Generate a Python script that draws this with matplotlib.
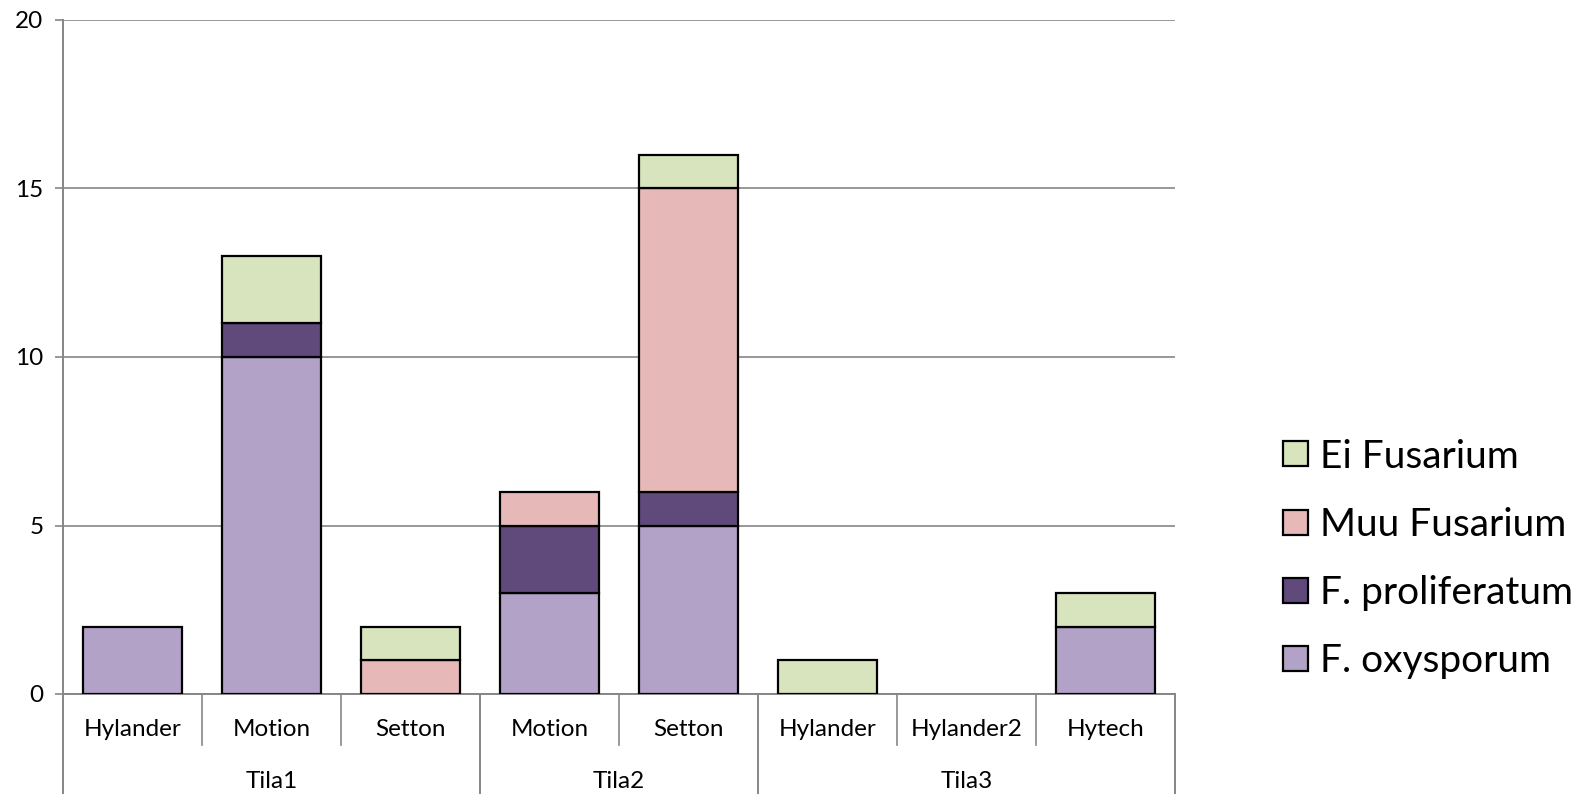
import matplotlib
matplotlib.use("Agg")
import matplotlib.pyplot as plt
import numpy as np

plt.rcParams['font.family'] = ['Lato', 'DejaVu Sans']

categories = ["Hylander", "Motion", "Setton", "Motion", "Setton", "Hylander", "Hylander2", "Hytech"]
groups = ["Tila1", "Tila2", "Tila3"]
group_sizes = [3, 2, 3]

f_oxysporum = [2, 10, 0, 3, 5, 0, 0, 2]
f_proliferatum = [0, 1, 0, 2, 1, 0, 0, 0]
muu_fusarium = [0, 0, 1, 1, 9, 0, 0, 0]
ei_fusarium = [0, 2, 1, 0, 1, 1, 0, 1]

series = [
    ("F. oxysporum", f_oxysporum, "#B3A2C7"),
    ("F. proliferatum", f_proliferatum, "#604A7B"),
    ("Muu Fusarium", muu_fusarium, "#E6B9B8"),
    ("Ei Fusarium", ei_fusarium, "#D7E4BD"),
]

W, H = 1589, 794
fig = plt.figure(figsize=(W / 100, H / 100), dpi=100)
left, right, bottom, top = 63, 1175, 694, 20
ax = fig.add_axes([left / W, (H - bottom) / H, (right - left) / W, (bottom - top) / H])

grid_c = "#868686"
lab_fs = 17.5
x = np.arange(len(categories))
base = np.zeros(len(categories))
handles = []
for name, vals, col in series:
    vals = np.array(vals, dtype=float)
    mask = vals > 0
    b = ax.bar(x[mask], vals[mask], bottom=base[mask], width=0.71, color=col,
               edgecolor="black", linewidth=1.6, zorder=3)
    handles.append((b, name))
    base += vals

ax.set_xlim(-0.5, len(categories) - 0.5)
ax.set_ylim(0, 20)
ax.set_yticks([0, 5, 10, 15, 20])
ax.tick_params(axis='y', length=6, width=1.2, color=grid_c, labelsize=lab_fs, pad=8)
ax.yaxis.grid(True, color=grid_c, linewidth=1.2, zorder=0)
ax.set_xticks([])
for s in ["top", "right"]:
    ax.spines[s].set_visible(False)
for s in ["left", "bottom"]:
    ax.spines[s].set_color(grid_c)
    ax.spines[s].set_linewidth(1.4)

ax_h = bottom - top
trans = ax.get_xaxis_transform()
sub_depth = -(745 - bottom) / ax_h
grp_depth = -(H - bottom) / ax_h

# category labels
for i, c in enumerate(categories):
    ax.text(i, -(730 - bottom) / ax_h, c, transform=trans, ha='center', va='center', fontsize=lab_fs)

# dividers
start = 0
bounds = [-0.5]
for gi, (g, n) in enumerate(zip(groups, group_sizes)):
    for k in range(1, n):
        xb = start + k - 0.5
        ax.plot([xb, xb], [0, sub_depth], transform=trans, color=grid_c, lw=1.2, clip_on=False)
    center = start + (n - 1) / 2
    ax.text(center, -(781 - bottom) / ax_h, g, transform=trans, ha='center', va='center', fontsize=lab_fs)
    start += n
    bounds.append(start - 0.5)
for xb in bounds:
    ax.plot([xb, xb], [0, grp_depth], transform=trans, color=grid_c, lw=1.4, clip_on=False)

leg_handles = [h for h, _ in handles][::-1]
leg_labels = [n for _, n in handles][::-1]
fig.legend(leg_handles, leg_labels, loc='center left',
           bbox_to_anchor=(1267 / W, (H - 559) / H), frameon=False,
           fontsize=28, handlelength=0.65, handleheight=0.62, handletextpad=0.3,
           labelspacing=0.83, borderaxespad=0)

fig.savefig("out.png", dpi=100)
